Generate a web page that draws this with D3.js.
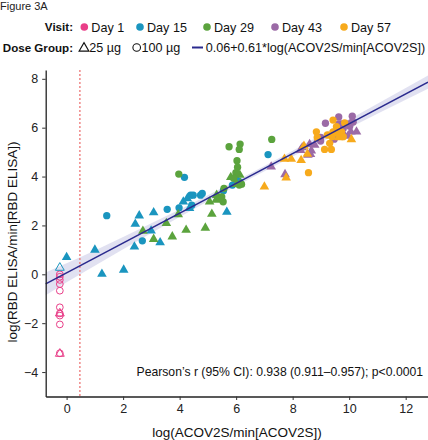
<!DOCTYPE html>
<html><head><meta charset="utf-8">
<script src="https://cdn.jsdelivr.net/npm/d3@7"></script>
<style>body{margin:0;background:#fff;font-family:"Liberation Sans",Arial,sans-serif;}</style>
</head><body>
<script>
// ---- data ----
const visits = ["Day 1","Day 15","Day 29","Day 43","Day 57"];
const visitColors = ["#E93E88","#1A95BF","#5BA33D","#9B6AA6","#F7AA1C"];
const doseLabels = ["25 µg","100 µg"];
const xTicks = [0,2,4,6,8,10,12];
const yTicks = [-4,-2,0,2,4,6,8];
const lloqX = 0.47;
const fitIntercept = 0.06, fitSlope = 0.61;
const fitLabel = "0.06+0.61*log(ACOV2S/min[ACOV2S])";
const statsLabel = "Pearson’s r (95% CI): 0.938 (0.911–0.957); p<0.0001";
// confidence band half-widths
const bandX = [-0.74,0,2,4,6,8,10,12,12.8];
const bandHalf = [0.47,0.39,0.25,0.15,0.11,0.12,0.17,0.24,0.27];
// points: [x, y, dose(0=25µg triangle,1=100µg circle), open(1 = below LLOQ)]
const day1 = [[-0.24,0,1,1],[-0.24,-0.1,1,1],[-0.24,-0.23,1,1],[-0.24,-0.4,1,1],[-0.24,-0.67,1,1],
  [-0.24,-1.35,1,1],[-0.24,-1.6,1,1],[-0.24,-1.69,1,1],[-0.24,-2.05,1,1],[-0.24,-3.23,1,1],
  [-0.24,-1.6,0,1],[-0.24,-3.25,0,1]];
const day15 = [[-0.24,0.27,0,1],[0,0.7,0,0],[1.0,1.0,0,0],[1.25,0.01,0,0],[2.02,0.18,0,0],[2.57,2.4,0,0],
  [3.08,2.53,0,0],[2.43,2.06,0,0],[2.99,1.78,0,0],[3.31,1.3,0,0],[2.4,1.13,0,0],[4.13,2.97,0,0],
  [4.27,3.1,0,0],[4.35,2.7,0,0],[5.67,2.55,0,0],
  [1.42,2.4,1,0],[3.56,2.66,1,0],[2.68,1.37,1,0],[3.98,2.72,1,0],[4.17,3.97,1,0],[4.39,3.24,1,0],
  [4.48,3.24,1,0],[4.74,3.24,1,0],[4.8,3.31,1,0],[4.43,2.83,1,0],[5.99,3.89,1,0],[6.08,3.82,1,0],
  [6.14,3.75,1,0],[5.87,3.65,1,0],[5.55,3.42,1,0],[7.13,4.9,1,0]];
const day29 = [[2.7,1.77,0,0],[3.08,1.44,0,0],[3.53,2.09,0,0],[3.95,2.45,0,0],[4.23,1.81,0,0],
  [3.74,1.54,0,0],[4.91,1.9,0,0],[5.06,2.97,0,0],[5.14,2.47,0,0],[5.81,3.97,0,0],[6.13,4.06,0,0],
  [6.02,3.69,0,0],[5.31,3.24,0,0],[5.4,3.11,0,0],[5.29,3.04,0,0],[6.15,3.72,0,0],
  [3.97,4.1,1,0],[5.75,5.22,1,0],[6.14,5.33,1,0],[6.11,5.11,1,0],[6.03,4.65,1,0],[6.05,4.38,1,0],
  [5.99,4.16,1,0],[5.91,3.93,1,0],[5.57,3.52,1,0],[5.49,3.17,1,0],[5.54,2.97,1,0],[5.43,3.11,1,0],
  [6.11,3.65,1,0],[6.19,3.69,1,0],[7.26,5.52,1,0]];
const day43 = [[7.24,4.4,0,0],[7.73,4.09,0,0],[8.28,5.08,0,0],[8.34,5.19,0,0],[8.6,5.32,0,0],
  [8.78,5.29,0,0],[8.66,5.06,0,0],[8.63,4.91,0,0],[8.54,4.88,0,0],[9.67,5.7,0,0],[9.96,5.66,0,0],
  [10.06,5.83,0,0],[10.26,5.83,0,0],[9.96,6.11,0,0],[10.11,6.31,0,0],
  [9.16,6.18,1,0],[8.99,5.6,1,0],[8.99,5.45,1,0],[9.47,5.53,1,0],[9.63,6.44,1,0],[9.73,6.15,1,0],
  [9.79,5.97,1,0],[9.79,5.7,1,0],[9.63,6.15,1,0],[10.11,6.47,1,0],[10.14,6.23,1,0],[10.02,6.06,1,0]];
const day57 = [[7.0,3.58,0,0],[7.71,4.72,0,0],[7.95,4.72,0,0],[8.3,4.67,0,0],[7.77,3.95,0,0],
  [8.4,5.25,0,0],[8.52,4.92,0,0],[9.63,5.6,0,0],[10.08,5.52,0,0],[9.6,5.75,0,0],
  [8.56,4.16,1,0],[8.84,5.83,1,0],[8.87,5.6,1,0],[9.13,5.11,1,0],[9.37,5.11,1,0],[9.31,5.36,1,0],
  [9.39,5.63,1,0],[9.23,5.7,1,0],[9.43,5.83,1,0],[9.55,6.04,1,0],[9.43,6.31,1,0],[9.73,5.83,1,0],
  [9.84,6.2,1,0],[9.79,5.63,1,0]];
const series = [day1, day15, day29, day43, day57];

// ---- layout ----
const W = 428, H = 440;
const FONT = '"Liberation Sans", Arial, sans-serif';
const svg = d3.select("body").append("svg").attr("width", W).attr("height", H)
  .style("font-family", FONT);
const x = d3.scaleLinear().domain([-0.74, 12.79]).range([45.7, 428]);
const y = d3.scaleLinear().domain([-5, 8.36]).range([396.5, 70]);

// band
const band = bandX.map((bx, i) => ({x: bx, lo: fitIntercept + fitSlope*bx - bandHalf[i], hi: fitIntercept + fitSlope*bx + bandHalf[i]}));
svg.append("path").datum(band)
  .attr("d", d3.area().x(d => x(d.x)).y0(d => y(d.lo)).y1(d => y(d.hi)).curve(d3.curveMonotoneX))
  .attr("fill", "#dcdcef").attr("opacity", 0.85);

// LLOQ line
svg.append("line").attr("x1", x(lloqX)).attr("x2", x(lloqX)).attr("y1", y(8.36)).attr("y2", y(-5))
  .attr("stroke", "#EE7F7F").attr("stroke-width", 1.4).attr("stroke-dasharray", "2,2");

// points
const sym = [d3.symbolTriangle, d3.symbolCircle];
const symSize = [40, 42];
series.forEach((pts, si) => {
  const c = visitColors[si];
  svg.append("g").selectAll("path").data(pts).join("path")
    .attr("transform", d => `translate(${x(d[0])},${y(d[1])})`)
    .attr("d", d => d3.symbol(sym[d[2]], d[3] ? symSize[d[2]] - 6 : symSize[d[2]])())
    .attr("fill", d => d[3] ? "none" : c)
    .attr("stroke", d => d[3] ? c : "none")
    .attr("stroke-width", 1);
});

// fit line
svg.append("line")
  .attr("x1", x(-0.74)).attr("y1", y(fitIntercept + fitSlope*(-0.74)))
  .attr("x2", x(12.79)).attr("y2", y(fitIntercept + fitSlope*12.79))
  .attr("stroke", "#2A2A8E").attr("stroke-width", 1.5);

// axes
const xAxis = svg.append("g").attr("transform", "translate(0,396.5)")
  .call(d3.axisBottom(x).tickValues(xTicks).tickSize(3.5).tickPadding(4).tickSizeOuter(0));
const yAxis = svg.append("g").attr("transform", "translate(45.7,0)")
  .call(d3.axisLeft(y).tickValues(yTicks).tickSize(3.5).tickPadding(4).tickSizeOuter(0)
    .tickFormat(d => d < 0 ? "−" + Math.abs(d) : d));
[xAxis, yAxis].forEach(a => {
  a.select(".domain").attr("stroke", "#222").attr("stroke-width", 1.3);
  a.selectAll(".tick line").attr("stroke", "#333");
  a.selectAll(".tick text").attr("font-size", 12.5).attr("fill", "#222").attr("font-family", FONT);
});

// axis titles
svg.append("text").attr("x", 237).attr("y", 436.5).attr("text-anchor", "middle")
  .attr("font-size", 13.5).attr("fill", "#111").text("log(ACOV2S/min[ACOV2S])");
svg.append("text").attr("transform", "translate(16.5,242) rotate(-90)").attr("text-anchor", "middle")
  .attr("font-size", 13.5).attr("fill", "#111").text("log(RBD ELISA/min[RBD ELISA])");

// stats
svg.append("text").attr("x", 423).attr("y", 376).attr("text-anchor", "end")
  .attr("font-size", 12.2).attr("fill", "#111").text(statsLabel);

// title
svg.append("text").attr("x", 0).attr("y", 10).attr("font-size", 11).attr("fill", "#222").text("Figure 3A");

// legend row 1
const ly1 = 27, ly2 = 47.5, LF = 12.6, BF = 11.6;
svg.append("text").attr("x", 73).attr("y", ly1 + 4.3).attr("text-anchor", "end")
  .attr("font-size", BF).attr("font-weight", "bold").attr("fill", "#111").text("Visit:");
const legX = [84.3, 140, 207, 275, 344];
visits.forEach((v, i) => {
  svg.append("circle").attr("cx", legX[i]).attr("cy", ly1).attr("r", 3.8).attr("fill", visitColors[i]);
  svg.append("text").attr("x", legX[i] + 7).attr("y", ly1 + 4.5).attr("font-size", LF).attr("fill", "#111").text(v);
});
// legend row 2
svg.append("text").attr("x", 73).attr("y", ly2 + 4.3).attr("text-anchor", "end")
  .attr("font-size", BF).attr("font-weight", "bold").attr("fill", "#111").text("Dose Group:");
svg.append("path").attr("transform", `translate(84,${ly2 + 0.8})`)
  .attr("d", d3.symbol(d3.symbolTriangle, 42)()).attr("fill", "none").attr("stroke", "#111").attr("stroke-width", 1.1);
svg.append("text").attr("x", 89.3).attr("y", ly2 + 4.5).attr("font-size", LF).attr("fill", "#111").text(doseLabels[0]);
svg.append("circle").attr("cx", 136.7).attr("cy", ly2).attr("r", 3.8).attr("fill", "none").attr("stroke", "#111").attr("stroke-width", 1.1);
svg.append("text").attr("x", 141.5).attr("y", ly2 + 4.5).attr("font-size", LF).attr("fill", "#111").text(doseLabels[1]);
svg.append("line").attr("x1", 192).attr("x2", 203).attr("y1", ly2).attr("y2", ly2).attr("stroke", "#2A2A8E").attr("stroke-width", 2);
svg.append("text").attr("x", 205.7).attr("y", ly2 + 4.5).attr("font-size", LF).attr("fill", "#111").text(fitLabel);
</script>
</body></html>
